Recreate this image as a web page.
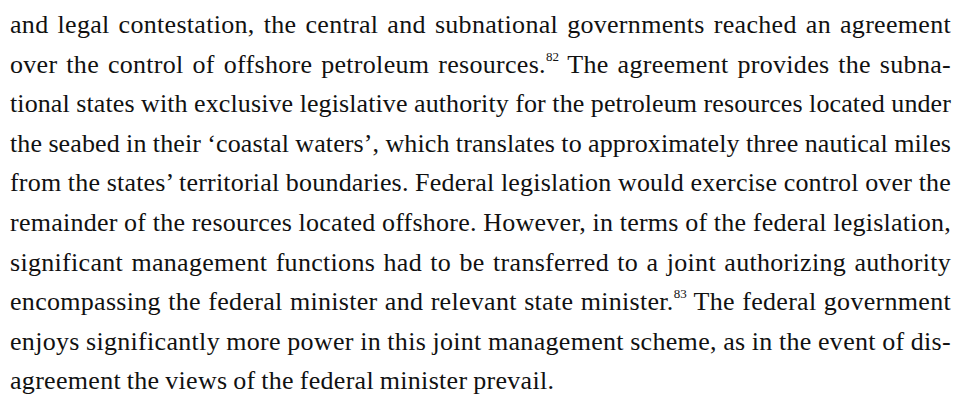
<!DOCTYPE html>
<html>
<head>
<meta charset="utf-8">
<script src="https://cdn.jsdelivr.net/npm/chart.js@4"></script>
<style>
  html, body { margin: 0; padding: 0; background: #fff; }
  #page {
    position: absolute;
    left: 10px;
    top: 5px;
    width: 941px;
    font-family: "Liberation Serif", "DejaVu Serif", serif;
    font-size: 26px;
    line-height: 39.6px;
    letter-spacing: 0.3px;
    word-spacing: -1px;
    color: #111;
  }
  .ln { text-align: justify; text-align-last: justify; white-space: nowrap; }
  .ln.last { text-align-last: left; }
  .ln.measure { text-align: left; text-align-last: left; }
  sup { font-size: 0.5em; line-height: 0; vertical-align: 0.9em; letter-spacing: 0; }
</style>
</head>
<body>
<div id="page"></div>
<script>
// paragraph, one entry per printed line; [n] marks a footnote call
const lines = [
  "and legal contestation, the central and subnational governments reached an agreement",
  "over the control of offshore petroleum resources.[82] The agreement provides the subna-",
  "tional states with exclusive legislative authority for the petroleum resources located under",
  "the seabed in their \u2018coastal waters\u2019, which translates to approximately three nautical miles",
  "from the states\u2019 territorial boundaries. Federal legislation would exercise control over the",
  "remainder of the resources located offshore. However, in terms of the federal legislation,",
  "significant management functions had to be transferred to a joint authorizing authority",
  "encompassing the federal minister and relevant state minister.[83] The federal government",
  "enjoys significantly more power in this joint management scheme, as in the event of dis-",
  "agreement the views of the federal minister prevail."
];

const page = document.getElementById("page");
const maxW = 941;
lines.forEach((txt, i) => {
  const d = document.createElement("div");
  const cls = "ln" + (i === lines.length - 1 ? " last" : "");
  d.className = cls + " measure";
  const inner = document.createElement("span");
  const parts = txt.split(/\[(\d+)\]/);
  parts.forEach((p, j) => {
    if (j % 2 === 1) {
      const s = document.createElement("sup");
      s.textContent = p;
      inner.appendChild(s);
    } else {
      inner.appendChild(document.createTextNode(p));
    }
  });
  d.appendChild(inner);
  page.appendChild(d);
  // tighten a line whose natural width is too long for the measure
  let ls = 0.3;
  while (inner.getBoundingClientRect().width > maxW - 6 && ls > -1) {
    ls -= 0.05;
    d.style.letterSpacing = ls + "px";
  }
  d.className = cls;
});
</script>
</body>
</html>
